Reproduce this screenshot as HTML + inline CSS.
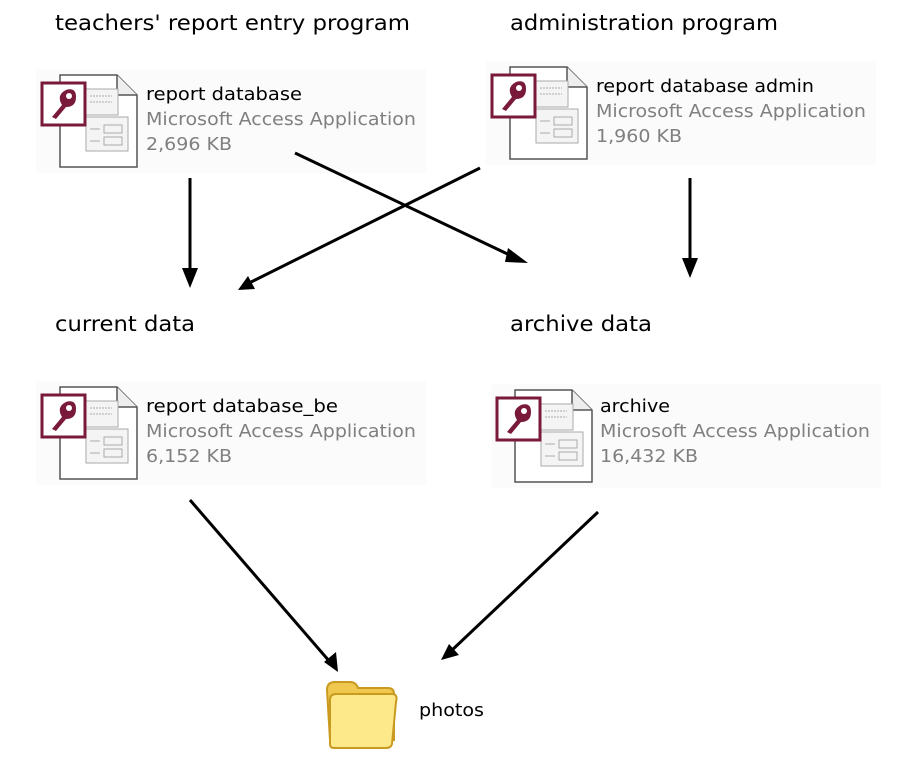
<!DOCTYPE html>
<html><head><meta charset="utf-8"><style>
html,body{margin:0;padding:0;background:#fff;}
svg text{font-family:"DejaVu Sans","Liberation Sans",sans-serif;}
</style></head><body>
<svg width="911" height="776" viewBox="0 0 911 776" xmlns="http://www.w3.org/2000/svg">
<defs>
<g id="ic">
<rect x="-6" y="-14" width="390" height="104" fill="#fbfbfb"/>
<path d="M18,-8 H75 L95,12 V84 H18 Z" fill="#fff" stroke="#555" stroke-width="1.5"/>
<path d="M75,-8 V12 H95" fill="#eee" stroke="#555" stroke-width="1.5"/>
<rect x="44" y="6" width="32" height="26" fill="#f4f4f4" stroke="#aaa"/>
<line x1="48" y1="13" x2="70" y2="13" stroke="#aaa" stroke-dasharray="2,1"/>
<line x1="48" y1="19" x2="70" y2="19" stroke="#aaa" stroke-dasharray="2,1"/>
<rect x="44" y="34" width="42" height="34" fill="#f4f4f4" stroke="#aaa"/>
<line x1="48" y1="46" x2="58" y2="46" stroke="#aaa"/>
<rect x="62" y="42" width="18" height="8" fill="none" stroke="#aaa"/>
<line x1="48" y1="58" x2="58" y2="58" stroke="#aaa"/>
<rect x="62" y="54" width="18" height="8" fill="none" stroke="#aaa"/>
<rect x="0" y="0" width="43" height="42" fill="#fff" stroke="#7a1a3a" stroke-width="3"/>
<path d="M10,34 L20,22 Q14,12 24,7 Q34,4 34,14 Q34,24 24,24 L14,36 Z" fill="#7a1a3a"/>
<circle cx="27" cy="13" r="3" fill="#fff"/>
</g>
</defs>
<g font-size="21" fill="#000">
<text x="55" y="30" textLength="355" lengthAdjust="spacingAndGlyphs">teachers' report entry program</text>
<text x="510" y="30" textLength="268" lengthAdjust="spacingAndGlyphs">administration program</text>
<text x="55" y="331" textLength="140" lengthAdjust="spacingAndGlyphs">current data</text>
<text x="510" y="331" textLength="142" lengthAdjust="spacingAndGlyphs">archive data</text>
</g>
<use href="#ic" x="42" y="83"/>
<use href="#ic" x="492" y="75"/>
<use href="#ic" x="42" y="395"/>
<use href="#ic" x="497" y="398"/>
<g font-size="18">
<text x="146" y="100" fill="#000" textLength="156" lengthAdjust="spacingAndGlyphs">report database</text>
<text x="146" y="125" fill="#808080" textLength="270" lengthAdjust="spacingAndGlyphs">Microsoft Access Application</text>
<text x="146" y="150" fill="#808080" textLength="86" lengthAdjust="spacingAndGlyphs">2,696 KB</text>
<text x="596" y="92" fill="#000" textLength="218" lengthAdjust="spacingAndGlyphs">report database admin</text>
<text x="596" y="117" fill="#808080" textLength="270" lengthAdjust="spacingAndGlyphs">Microsoft Access Application</text>
<text x="596" y="142" fill="#808080" textLength="86" lengthAdjust="spacingAndGlyphs">1,960 KB</text>
<text x="146" y="412" fill="#000" textLength="192" lengthAdjust="spacingAndGlyphs">report database_be</text>
<text x="146" y="437" fill="#808080" textLength="270" lengthAdjust="spacingAndGlyphs">Microsoft Access Application</text>
<text x="146" y="462" fill="#808080" textLength="86" lengthAdjust="spacingAndGlyphs">6,152 KB</text>
<text x="600" y="412" fill="#000" textLength="70" lengthAdjust="spacingAndGlyphs">archive</text>
<text x="600" y="437" fill="#808080" textLength="270" lengthAdjust="spacingAndGlyphs">Microsoft Access Application</text>
<text x="600" y="462" fill="#808080" textLength="98" lengthAdjust="spacingAndGlyphs">16,432 KB</text>
<text x="419" y="716" fill="#000" textLength="65" lengthAdjust="spacingAndGlyphs">photos</text>
</g>
<g stroke="#000" stroke-width="3" fill="none">
<line x1="190" y1="178" x2="190" y2="280"/>
<line x1="295" y1="153" x2="518" y2="259"/>
<line x1="480" y1="168" x2="247" y2="284"/>
<line x1="690" y1="178" x2="690" y2="270"/>
<line x1="190" y1="500" x2="330" y2="662"/>
<line x1="598" y1="512" x2="450" y2="652"/>
</g>
<g fill="#000">
<path d="M182,268 L198,268 L190,288 Z"/>
<path d="M682,258 L698,258 L690,278 Z"/>
<path d="M505,262 L508,248 L528,263 Z"/>
<path d="M255,289 L248,276 L238,290 Z"/>
<path d="M324,662 L336,652 L338,672 Z"/>
<path d="M449,644 L459,655 L441,660 Z"/>
</g>
<g>
<path d="M327,690 Q327,682 335,682 H350 Q356,682 358,688 H388 Q394,688 394,694 V740 H330 Z" fill="#f0c850" stroke="#c99a20" stroke-width="2"/>
<path d="M330,700 Q330,694 336,694 H392 Q398,694 396,702 L392,744 Q391,748 386,748 H334 Q330,748 330,744 Z" fill="#fde88a" stroke="#c99a20" stroke-width="2"/>
</g>
</svg>
</body></html>
